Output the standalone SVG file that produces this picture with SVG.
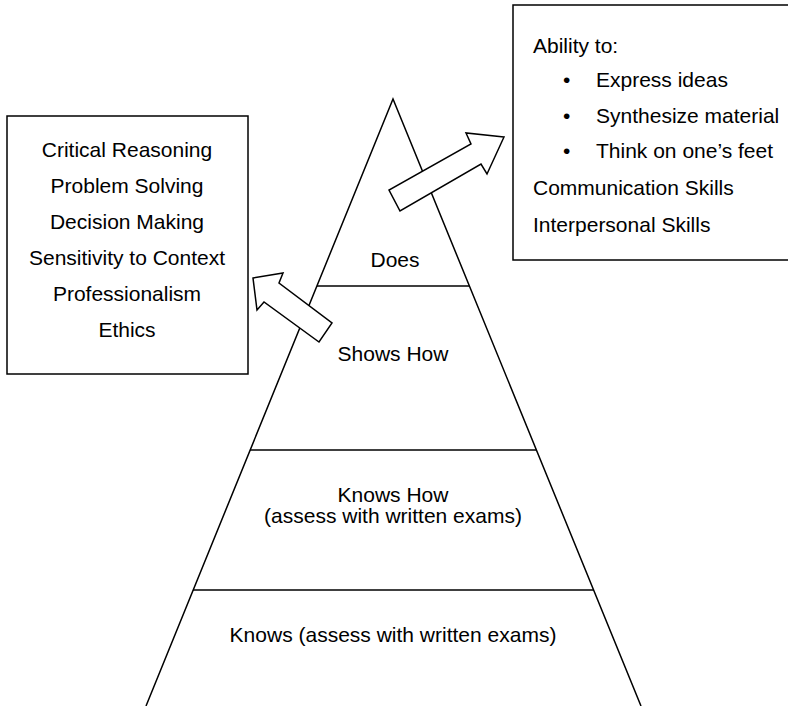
<svg xmlns="http://www.w3.org/2000/svg" width="788" height="706" viewBox="0 0 788 706">
<style>
.ln{fill:none;stroke:#000;stroke-width:1.5}
.box{fill:#fff;stroke:#000;stroke-width:1.5}
.arr{fill:#fff;stroke:#000;stroke-width:1.5;stroke-linejoin:miter}
text{font-family:"Liberation Sans",Arial,Helvetica,sans-serif;font-size:21px;fill:#000}
.c{text-anchor:middle}
</style>
<rect width="788" height="706" fill="#fff"/>
<g id="pyramid">
<path class="ln" d="M146,706 L393,99 L641,706"/>
<line class="ln" x1="317" y1="286" x2="469" y2="286"/>
<line class="ln" x1="250" y1="450" x2="536" y2="450"/>
<line class="ln" x1="193" y1="590" x2="594" y2="590"/>
</g>
<g id="tier-does"><text class="c" x="395" y="267">Does</text></g>
<g id="tier-shows-how"><text class="c" x="393" y="361">Shows How</text></g>
<g id="tier-knows-how"><text class="c" x="393" y="502">Knows How</text><text class="c" x="393" y="523">(assess with written exams)</text></g>
<g id="tier-knows"><text class="c" x="393" y="642">Knows (assess with written exams)</text></g>
<g id="left-box">
<rect class="box" x="7" y="116" width="241" height="258"/>
<text class="c" x="127" y="157">Critical Reasoning</text>
<text class="c" x="127" y="193">Problem Solving</text>
<text class="c" x="127" y="229">Decision Making</text>
<text class="c" x="127" y="265">Sensitivity to Context</text>
<text class="c" x="127" y="301">Professionalism</text>
<text class="c" x="127" y="337">Ethics</text>
</g>
<g id="right-box">
<rect class="box" x="513" y="5" width="285" height="255"/>
<text x="533" y="53">Ability to:</text>
<text x="563" y="87">•</text><text x="596" y="87">Express ideas</text>
<text x="563" y="123">•</text><text x="596" y="123">Synthesize material</text>
<text x="563" y="158">•</text><text x="596" y="158">Think on one’s feet</text>
<text x="533" y="195">Communication Skills</text>
<text x="533" y="232">Interpersonal Skills</text>
</g>
<g id="connectors">
<polygon class="arr" points="253,278 283,273 279,283 332,323 319,342 264,302 257,310"/>
<polygon class="arr" points="504,137 466,133 471,144 389,190 400,211 481,164 487,174"/>
</g>
</svg>
